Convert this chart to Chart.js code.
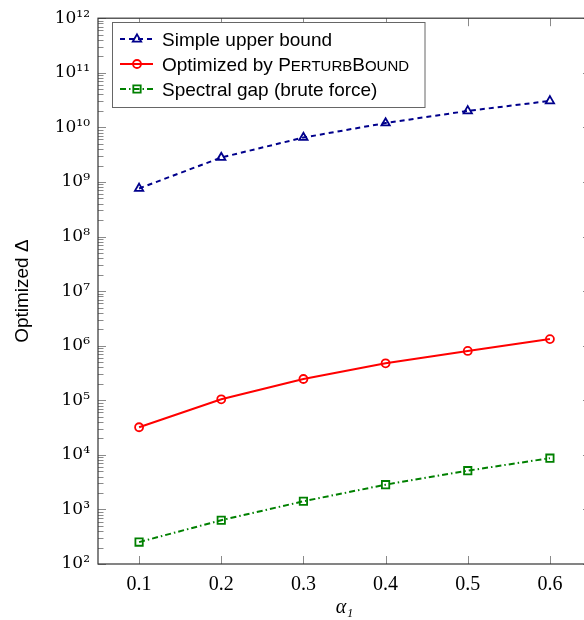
<!DOCTYPE html>
<html><head><meta charset="utf-8">
<script src="https://cdn.jsdelivr.net/npm/chart.js@4/dist/chart.umd.min.js"></script>
<style>html,body{margin:0;padding:0;overflow:hidden;background:#fff}
#wrap{width:600px;height:620px;position:relative}</style>
</head><body><div id="wrap"><canvas id="c"></canvas></div>
<script>
// ---- data ----
const alphas = [0.1, 0.2, 0.3, 0.4, 0.5, 0.6];
const simpleUpperBound = [7.6e8, 2.8e9, 6.5e9, 1.2e10, 2.0e10, 3.05e10];
const perturbBound = [3.2e4, 1.04e5, 2.45e5, 4.75e5, 8.0e5, 1.32e6];
const spectralGap = [252, 634, 1410, 2840, 5130, 8690];
const xTicks = [0.1, 0.2, 0.3, 0.4, 0.5, 0.6];
const yExponents = [2, 3, 4, 5, 6, 7, 8, 9, 10, 11, 12];
const seriesLabels = ['Simple upper bound', 'Optimized by PerturbBound', 'Spectral gap (brute force)'];
const xTitle = 'α₁';
const yTitle = 'Optimized Δ';

const SUP = '⁰¹²³⁴⁵⁶⁷⁸⁹';
const sup = n => String(n).split('').map(d => SUP[+d]).join('');
const pts = ys => alphas.map((a, i) => ({x: a, y: ys[i]}));

const BLUE = 'rgb(0,0,140)', RED = 'rgb(255,0,0)', GREEN = 'rgb(0,128,0)';
const styles = [
  {color: BLUE, dash: [5, 4], marker: 'triangle'},
  {color: RED, dash: [], marker: 'circle'},
  {color: GREEN, dash: [6, 3, 1.5, 3], marker: 'rect'}
];

function drawMarker(ctx, type, x, y, color) {
  ctx.save();
  ctx.strokeStyle = color; ctx.lineWidth = 1.8; ctx.setLineDash([]);
  ctx.beginPath();
  if (type === 'circle') ctx.arc(x, y, 4, 0, Math.PI * 2);
  else if (type === 'rect') ctx.rect(x - 3.7, y - 3.7, 7.4, 7.4);
  else { ctx.moveTo(x, y - 4.6); ctx.lineTo(x + 4.2, y + 2.6); ctx.lineTo(x - 4.2, y + 2.6); ctx.closePath(); }
  ctx.stroke();
  ctx.restore();
}

const framePlugin = {
  id: 'frame',
  beforeDatasetsDraw(chart) {
    const {ctx, chartArea: a, scales: {x, y}} = chart;
    ctx.save();
    ctx.strokeStyle = '#8a8a8a'; ctx.lineWidth = 1;
    ctx.beginPath();
    xTicks.forEach(v => {
      const px = Math.round(x.getPixelForValue(v)) + 0.5;
      ctx.moveTo(px, a.bottom); ctx.lineTo(px, a.bottom - 8);
      ctx.moveTo(px, a.top); ctx.lineTo(px, a.top + 8);
    });
    yExponents.forEach((n, i) => {
      const py = Math.round(y.getPixelForValue(Math.pow(10, n))) + 0.5;
      ctx.moveTo(a.left, py); ctx.lineTo(a.left + 8, py);
      ctx.moveTo(a.right, py); ctx.lineTo(a.right - 8, py);
      if (i < yExponents.length - 1) {
        for (let k = 2; k <= 9; k++) {
          const pm = Math.round(y.getPixelForValue(k * Math.pow(10, n))) + 0.5;
          ctx.moveTo(a.left, pm); ctx.lineTo(a.left + 5.5, pm);
          ctx.moveTo(a.right, pm); ctx.lineTo(a.right - 5.5, pm);
        }
      }
    });
    ctx.stroke();
    ctx.strokeStyle = '#333'; ctx.lineWidth = 1.2;
    ctx.strokeRect(a.left, a.top, a.right - a.left, a.bottom - a.top);
    ctx.restore();
  }
};

const legendPlugin = {
  id: 'customLegend',
  afterDatasetsDraw(chart) {
    const ctx = chart.ctx;
    const bx = 112.5, by = 22, bw = 312.5, bh = 85;
    const big = '19px "Liberation Sans", Arial, sans-serif';
    const small = '15px "Liberation Sans", Arial, sans-serif';
    ctx.save();
    ctx.fillStyle = '#fff'; ctx.fillRect(bx, by, bw, bh);
    ctx.strokeStyle = '#666'; ctx.lineWidth = 1;
    ctx.strokeRect(bx, by + 0.5, bw, bh);
    seriesLabels.forEach((label, i) => {
      const yy = 39 + i * 25;
      const st = styles[i];
      ctx.strokeStyle = st.color; ctx.lineWidth = 2; ctx.setLineDash(st.dash);
      ctx.beginPath(); ctx.moveTo(120, yy); ctx.lineTo(153, yy); ctx.stroke();
      ctx.setLineDash([]);
      drawMarker(ctx, st.marker, 137, yy, st.color);
      ctx.fillStyle = '#000';
      ctx.textBaseline = 'alphabetic'; ctx.textAlign = 'left';
      const base = yy + 7;
      const idx = label.indexOf('PerturbBound');
      if (idx >= 0) {
        // render the name in small capitals: capitals at full size, the rest as smaller capitals
        let xx = 162;
        ctx.font = big;
        const pre = label.slice(0, idx);
        ctx.fillText(pre, xx, base); xx += ctx.measureText(pre).width;
        const name = label.slice(idx);
        const parts = name.match(/[A-Z][a-z]*/g);
        parts.forEach(p => {
          ctx.font = big; ctx.fillText(p[0], xx, base); xx += ctx.measureText(p[0]).width;
          const rest = p.slice(1).toUpperCase();
          ctx.font = small; ctx.fillText(rest, xx, base); xx += ctx.measureText(rest).width;
        });
      } else {
        ctx.font = big;
        ctx.fillText(label, 162, base);
      }
    });
    ctx.restore();
  }
};

const ds = (label, data, st) => ({
  label, data: pts(data),
  borderColor: st.color, backgroundColor: 'rgba(0,0,0,0)',
  borderWidth: 2, borderDash: st.dash,
  pointStyle: st.marker, pointRadius: st.marker === 'rect' ? 5.2 : (st.marker === 'triangle' ? 4.8 : 4),
  pointBorderWidth: 1.8, pointBorderColor: st.color, pointBackgroundColor: 'rgba(0,0,0,0)',
  tension: 0, fill: false
});

new Chart(document.getElementById('c'), {
  type: 'line',
  data: {
    datasets: [
      ds(seriesLabels[0], simpleUpperBound, styles[0]),
      ds(seriesLabels[1], perturbBound, styles[1]),
      ds(seriesLabels[2], spectralGap, styles[2])
    ]
  },
  options: {
    responsive: true, maintainAspectRatio: false, animation: false,
    layout: {padding: {top: 16, right: 9, left: 0, bottom: 0}},
    plugins: {legend: {display: false}, tooltip: {enabled: false}},
    elements: {line: {borderCapStyle: 'butt'}},
    scales: {
      x: {
        type: 'linear', min: 0.05, max: 0.65,
        grid: {display: false, drawTicks: false},
        border: {display: false},
        afterBuildTicks: s => { s.ticks = xTicks.map(v => ({value: v})); },
        afterFit: s => { s.height = 56; },
        ticks: {
          autoSkip: false, maxRotation: 0, padding: 9, color: '#000',
          font: {family: '"Liberation Serif", "DejaVu Serif", serif', size: 20},
          callback: v => Number(v).toFixed(1)
        },
        title: {
          display: true, text: xTitle, color: '#000', padding: {top: 0, bottom: 0},
          font: {family: '"Liberation Serif", "DejaVu Serif", serif', size: 20, style: 'italic'}
        }
      },
      y: {
        type: 'logarithmic', min: 100, max: 1e12,
        grid: {display: false, drawTicks: false},
        border: {display: false},
        afterBuildTicks: s => { s.ticks = yExponents.map(n => ({value: Math.pow(10, n)})); },
        afterFit: s => { s.width = 98; },
        ticks: {
          autoSkip: false, padding: 8, color: '#000',
          font: {family: '"DejaVu Serif", serif', size: 17},
          callback: v => '10' + sup(Math.round(Math.log10(v)))
        },
        title: {
          display: true, text: yTitle, color: '#000', padding: {top: 11, bottom: 0},
          font: {family: '"Liberation Sans", Arial, sans-serif', size: 19}
        }
      }
    }
  },
  plugins: [framePlugin, legendPlugin]
});
</script></body></html>
